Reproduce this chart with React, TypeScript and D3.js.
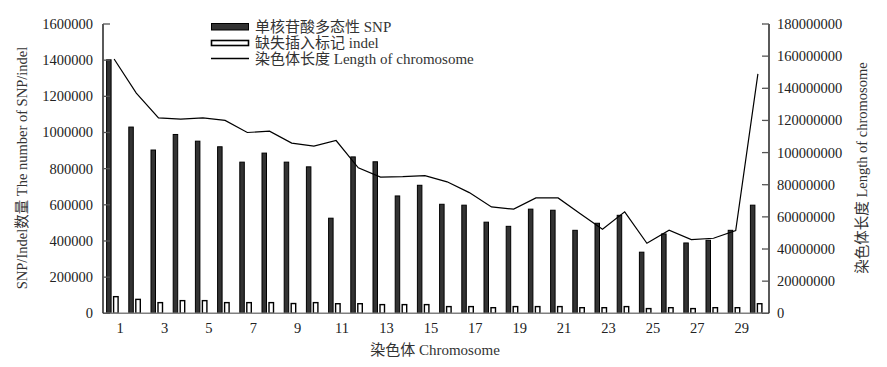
import React from "react";
import * as d3 from "d3";

const chromosomes = Array.from({ length: 30 }, (_, i) => i + 1);
const snpCounts = [1402000, 1030000, 903000, 989000, 952000, 921000, 836000, 886000, 836000, 810000,
  526000, 865000, 838000, 649000, 708000, 603000, 598000, 504000, 481000, 576000,
  570000, 459000, 498000, 542000, 338000, 439000, 389000, 404000, 459000, 598000];
const indelCounts = [92000, 77000, 59000, 70000, 70000, 59000, 59000, 59000, 54000, 59000,
  53000, 53000, 48000, 48000, 48000, 37000, 37000, 31000, 37000, 37000,
  37000, 31000, 31000, 37000, 26000, 31000, 26000, 31000, 31000, 53000];
const chromLengths = [158200000, 137000000, 121600000, 120800000, 121600000, 120000000, 112500000, 113300000, 105900000, 104000000,
  107500000, 90500000, 84700000, 85000000, 85700000, 81800000, 75100000, 66200000, 64800000, 71800000,
  71800000, 62000000, 52300000, 63100000, 43600000, 51700000, 45900000, 46700000, 51500000, 149000000];
const leftTicks = [0, 200000, 400000, 600000, 800000, 1000000, 1200000, 1400000, 1600000];
const rightTicks = [0, 20000000, 40000000, 60000000, 80000000, 100000000, 120000000, 140000000, 160000000, 180000000];
const xLabels = [1, 3, 5, 7, 9, 11, 13, 15, 17, 19, 21, 23, 25, 27, 29];

const legendItems = ["单核苷酸多态性 SNP", "缺失插入标记 indel", "染色体长度 Length of chromosome"];

const FONT = "'Liberation Serif', 'Noto Sans CJK SC', serif";

export default function App() {
  const W = 887, H = 367;
  const left = 103, right = 769, top = 24, bottom = 313.3;
  const x = d3.scaleBand<number>().domain(chromosomes).range([left, right]).padding(0);
  const bw = x.bandwidth();
  const yL = d3.scaleLinear().domain([0, 1600000]).range([bottom, top]);
  const yR = d3.scaleLinear().domain([0, 180000000]).range([bottom, top]);
  const cx = (c: number) => (x(c) as number) + bw / 2;

  const line = d3.line<number>()
    .x((_, i) => cx(chromosomes[i]))
    .y((d) => yR(d));

  return (
    <svg width={W} height={H} style={{ position: "absolute", left: 0, top: 0, background: "#fff" }}
      fontFamily={FONT}>
      {/* bars */}
      {chromosomes.map((c, i) => (
        <g key={c}>
          <rect x={cx(c) - 7.5} y={yL(snpCounts[i])} width={4.5} height={bottom - yL(snpCounts[i])}
            fill="#333" stroke="#000" strokeWidth={1} />
          <rect x={cx(c) - 0.5} y={yL(indelCounts[i])} width={4.5} height={bottom - yL(indelCounts[i])}
            fill="#fff" stroke="#000" strokeWidth={1.4} />
        </g>
      ))}
      {/* line */}
      <path d={line(chromLengths) as string} fill="none" stroke="#000" strokeWidth={1.2} />

      {/* x axis */}
      <line x1={left} x2={right} y1={bottom} y2={bottom} stroke="#808080" strokeWidth={1.5} />
      {xLabels.map((c) => (
        <text key={c} x={cx(c) + 6} y={333} fontSize={14.5} textAnchor="middle" fill="#222">{c}</text>
      ))}
      <text x={435} y={355} fontSize={15} textAnchor="middle" fill="#333">染色体 Chromosome</text>

      {/* left axis */}
      <line x1={left} x2={left} y1={top} y2={bottom} stroke="#000" strokeWidth={1.3} />
      {leftTicks.map((t) => (
        <g key={t}>
          <line x1={left} x2={left + 7} y1={yL(t)} y2={yL(t)} stroke="#555" strokeWidth={1.3} />
          <text x={93} y={yL(t) + 5} fontSize={14.5} textAnchor="end" fill="#222">{t}</text>
        </g>
      ))}
      <text transform={`translate(27,168) rotate(-90)`} fontSize={14.5} textAnchor="middle" fill="#333">
        SNP/Indel数量 The number of SNP/indel
      </text>

      {/* right axis */}
      <line x1={right} x2={right} y1={top} y2={bottom} stroke="#000" strokeWidth={1.3} />
      {rightTicks.map((t) => (
        <g key={t}>
          <line x1={right - 7} x2={right} y1={yR(t)} y2={yR(t)} stroke="#555" strokeWidth={1.3} />
          <text x={777} y={yR(t) + 5} fontSize={14.5} textAnchor="start" fill="#222">{t}</text>
        </g>
      ))}
      <text transform={`translate(867,168) rotate(-90)`} fontSize={14.5} textAnchor="middle" fill="#333">
        染色体长度 Length of chromosome
      </text>

      {/* legend */}
      <rect x={211.5} y={23.5} width={37} height={6.5} fill="#333" stroke="#000" strokeWidth={1} />
      <rect x={211.5} y={40.5} width={37} height={5} fill="#fff" stroke="#000" strokeWidth={1.6} />
      <line x1={211} x2={249} y1={58.5} y2={58.5} stroke="#000" strokeWidth={1.3} />
      {legendItems.map((s, i) => (
        <text key={s} x={255} y={31.5 + i * 16} fontSize={15} fill="#333">{s}</text>
      ))}
    </svg>
  );
}
